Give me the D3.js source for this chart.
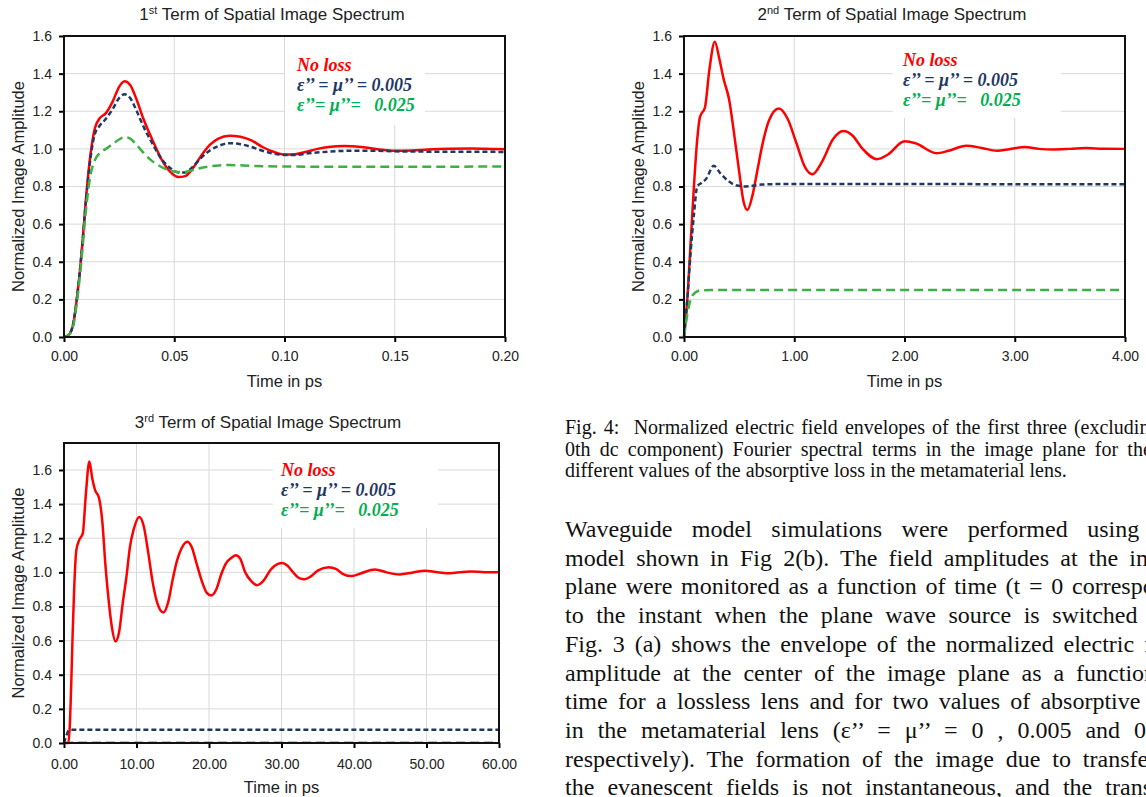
<!DOCTYPE html>
<html>
<head>
<meta charset="utf-8">
<script src="https://cdn.jsdelivr.net/npm/d3@7"></script>
<style>
    body { margin: 0; background: #fff; overflow: hidden; }
    svg { display: block; }
</style>
</head>
<body>
<script>
//------------------ data (time in ps, normalized amplitude) -----------------------
// 1st term
const term1_noLoss = [[0,0],[0.002,0.01],[0.004,0.06],[0.006,0.22],[0.008,0.45],[0.010,0.74],[0.012,0.97],[0.014,1.11],[0.016,1.16],[0.019,1.19],[0.022,1.25],[0.025,1.33],[0.0275,1.36],[0.030,1.34],[0.033,1.26],[0.036,1.16],[0.040,1.05],[0.044,0.95],[0.048,0.88],[0.052,0.85],[0.055,0.855],[0.058,0.89],[0.062,0.96],[0.066,1.02],[0.070,1.055],[0.075,1.07],[0.080,1.065],[0.085,1.045],[0.090,1.01],[0.095,0.985],[0.100,0.97],[0.105,0.972],[0.110,0.985],[0.115,1.0],[0.120,1.01],[0.127,1.015],[0.135,1.01],[0.143,0.997],[0.150,0.99],[0.158,0.992],[0.165,0.997],[0.175,1.001],[0.185,1.002],[0.195,0.999],[0.2,0.998]];
const term1_loss005 = [[0,0],[0.002,0.01],[0.004,0.06],[0.006,0.22],[0.008,0.45],[0.010,0.73],[0.012,0.95],[0.014,1.08],[0.016,1.12],[0.019,1.16],[0.022,1.21],[0.025,1.27],[0.0275,1.29],[0.030,1.27],[0.033,1.2],[0.036,1.12],[0.040,1.03],[0.044,0.95],[0.048,0.9],[0.052,0.875],[0.055,0.875],[0.058,0.9],[0.062,0.95],[0.066,0.99],[0.070,1.015],[0.075,1.03],[0.080,1.025],[0.085,1.01],[0.090,0.99],[0.095,0.975],[0.100,0.968],[0.105,0.968],[0.110,0.975],[0.120,0.985],[0.130,0.99],[0.140,0.99],[0.150,0.987],[0.170,0.985],[0.2,0.984]];
const term1_loss025 = [[0,0],[0.002,0.01],[0.004,0.05],[0.006,0.2],[0.008,0.42],[0.010,0.68],[0.012,0.86],[0.014,0.94],[0.016,0.975],[0.019,1.0],[0.022,1.025],[0.025,1.05],[0.0275,1.063],[0.030,1.055],[0.033,1.02],[0.036,0.98],[0.040,0.935],[0.044,0.905],[0.048,0.885],[0.052,0.877],[0.056,0.88],[0.060,0.893],[0.065,0.905],[0.070,0.912],[0.075,0.914],[0.085,0.91],[0.10,0.906],[0.13,0.905],[0.2,0.906]];
// 2nd term
const term2_noLoss = [[0,0],[0.03,0.2],[0.06,0.5],[0.09,0.8],[0.12,1.05],[0.145,1.17],[0.19,1.22],[0.23,1.42],[0.28,1.57],[0.32,1.48],[0.36,1.37],[0.41,1.26],[0.45,1.1],[0.5,0.88],[0.54,0.72],[0.575,0.675],[0.62,0.75],[0.67,0.9],[0.71,1.02],[0.77,1.15],[0.86,1.215],[0.94,1.16],[1.02,1.03],[1.1,0.9],[1.165,0.865],[1.25,0.93],[1.35,1.05],[1.445,1.095],[1.53,1.07],[1.62,1.0],[1.75,0.945],[1.85,0.97],[2.0,1.04],[2.1,1.03],[2.29,0.977],[2.4,0.99],[2.56,1.017],[2.7,1.005],[2.84,0.99],[2.95,0.998],[3.09,1.01],[3.22,1.0],[3.35,0.997],[3.5,1.0],[3.65,1.004],[3.8,1.001],[4.0,1.0]];
const term2_loss005 = [[0,0],[0.03,0.2],[0.06,0.45],[0.09,0.65],[0.12,0.8],[0.16,0.82],[0.2,0.84],[0.27,0.91],[0.33,0.87],[0.4,0.83],[0.48,0.805],[0.56,0.8],[0.7,0.81],[0.9,0.813],[4,0.812]];
const term2_loss025 = [[0,0],[0.03,0.12],[0.06,0.2],[0.1,0.235],[0.15,0.248],[0.25,0.25],[4,0.25]];
// 3rd term
const term3_noLoss = [[0,0],[0.6,0],[0.8,0.1],[1.0,0.35],[1.2,0.65],[1.4,0.9],[1.7,1.13],[2.1,1.19],[2.6,1.23],[3.0,1.45],[3.5,1.65],[3.9,1.55],[4.3,1.48],[4.8,1.44],[5.3,1.29],[5.7,1.05],[6.1,0.86],[6.6,0.68],[7.1,0.595],[7.6,0.65],[8.1,0.82],[8.6,0.97],[9.1,1.15],[9.6,1.25],[10.4,1.325],[11.0,1.27],[11.6,1.12],[12.2,0.95],[12.8,0.83],[13.7,0.765],[14.4,0.83],[15.0,0.96],[15.6,1.07],[16.2,1.14],[17.0,1.18],[17.6,1.15],[18.3,1.05],[19.0,0.95],[19.7,0.88],[20.3,0.865],[21.0,0.9],[21.7,0.99],[22.3,1.05],[23.1,1.085],[23.7,1.1],[24.3,1.08],[25.0,1.0],[25.8,0.95],[26.6,0.925],[27.5,0.95],[28.5,1.015],[29.5,1.05],[30.1,1.055],[30.8,1.04],[31.7,0.995],[32.5,0.965],[33.2,0.96],[34.0,0.975],[35.0,1.01],[36.5,1.03],[37.5,1.02],[38.5,0.99],[39.7,0.978],[41,0.995],[42.9,1.017],[44.5,1.0],[46.3,0.988],[48,0.998],[49.8,1.01],[51.5,1.0],[52.8,0.995],[54.5,1.0],[56,1.005],[58,1.001],[60,1.0]];
const term3_loss005 = [[0,0],[0.3,0.04],[0.6,0.07],[1,0.077],[60,0.077]];
const term3_loss025 = [[0,0.002],[60,0.002]];

// axis ticks
const ticks1_x = [0, 0.05, 0.10, 0.15, 0.20];
const ticks2_x = [0, 1, 2, 3, 4];
const ticks3_x = [0, 10, 20, 30, 40, 50, 60];
const ticks_y = [0, 0.2, 0.4, 0.6, 0.8, 1.0, 1.2, 1.4, 1.6];

const legend_labels = ["No loss", "\u03b5\u2019\u2019 = \u03bc\u2019\u2019 = 0.005", "\u03b5\u2019\u2019= \u03bc\u2019\u2019=   0.025"];

// text beside the charts
const caption_lines = [
    "Fig. 4:  Normalized electric field envelopes of the first three (excluding the",
    "0th dc component) Fourier spectral terms in the image plane for the two",
    "different values of the absorptive loss in the metamaterial lens."
];
const body_lines = [
    "Waveguide model simulations were performed using the",
    "model shown in Fig 2(b). The field amplitudes at the image",
    "plane were monitored as a function of time (t = 0 corresponds",
    "to the instant when the plane wave source is switched on).",
    "Fig. 3 (a) shows the envelope of the normalized electric field",
    "amplitude at the center of the image plane as a function of",
    "time for a lossless lens and for two values of absorptive loss",
    "in the metamaterial lens (\u03b5\u2019\u2019 = \u03bc\u2019\u2019 = 0 , 0.005 and 0.025",
    "respectively). The formation of the image due to transfer of",
    "the evanescent fields is not instantaneous, and the transient"
];

//------------------ layout -----------------------
const complete_width = 1146, complete_height = 797;
const sans = "'Liberation Sans', Arial, sans-serif",
    serif = "'Liberation Serif', 'Times New Roman', serif";
const colors = { red: "#ff0000", navy: "#1f3864", green: "#3cb043", legendGreen: "#00b050", grid: "#d9d9d9" };

const panels = [
    { num: "1", sup: "st", left: 64, right: 505, top: 36, bottom: 337, xmax: 0.2, yMax: 1.6, xTicks: ticks1_x,
      series: [term1_noLoss, term1_loss005, term1_loss025], titleX: 272, titleY: 20, xLabY: 361, axisTitleY: 387,
      box: { x0: 285, x1: 425, y0: 36, y1: 125 }, legX: 297, legY: 71 },
    { num: "2", sup: "nd", left: 684, right: 1125, top: 36, bottom: 337, xmax: 4, yMax: 1.6, xTicks: ticks2_x,
      series: [term2_noLoss, term2_loss005, term2_loss025], titleX: 892, titleY: 20, xLabY: 361, axisTitleY: 387,
      box: { x0: 893, x1: 1061, y0: 36, y1: 118 }, legX: 903, legY: 66 },
    { num: "3", sup: "rd", left: 64, right: 499, top: 443, bottom: 743, xmax: 60, yMax: 1.758, xTicks: ticks3_x,
      series: [term3_noLoss, term3_loss005, term3_loss025], titleX: 268, titleY: 428, xLabY: 769, axisTitleY: 793,
      box: { x0: 273, x1: 438, y0: 443, y1: 528 }, legX: 281, legY: 476 }
];

const svg = d3.select("body")
    .append("svg")
    .attr("width", complete_width)
    .attr("height", complete_height);

const styles = [
    { color: colors.red, dash: null },
    { color: colors.navy, dash: "5,3" },
    { color: colors.green, dash: "9,5" }
];
const legendColors = [colors.red, colors.navy, colors.legendGreen];

panels.forEach(p => {
    const g = svg.append("g");
    const x = d3.scaleLinear().domain([0, p.xmax]).range([p.left, p.right]);
    const y = d3.scaleLinear().domain([0, p.yMax]).range([p.bottom, p.top]);

    // gridlines
    g.append("g").selectAll("line")
        .data(ticks_y.filter(d => d > 0))
        .join("line")
        .attr("x1", p.left).attr("x2", p.right)
        .attr("y1", d => y(d)).attr("y2", d => y(d))
        .attr("stroke", colors.grid).attr("stroke-width", 1);
    g.append("g").selectAll("line")
        .data(p.xTicks.filter(d => d > 0 && d < p.xmax))
        .join("line")
        .attr("x1", d => x(d)).attr("x2", d => x(d))
        .attr("y1", p.top).attr("y2", p.bottom)
        .attr("stroke", colors.grid).attr("stroke-width", 1);

    // white legend box hides the grid
    g.append("rect")
        .attr("x", p.box.x0).attr("y", p.box.y0)
        .attr("width", p.box.x1 - p.box.x0).attr("height", p.box.y1 - p.box.y0)
        .attr("fill", "#fff");

    // axes
    const xAxis = d3.axisBottom(x).tickValues(p.xTicks).tickFormat(d3.format(".2f")).tickSize(5).tickPadding(p.xLabY - p.bottom - 15);
    const yAxis = d3.axisLeft(y).tickValues(ticks_y).tickFormat(d3.format(".1f")).tickSize(5).tickPadding(7);
    const gx = g.append("g").attr("transform", `translate(0,${p.bottom})`).call(xAxis);
    const gy = g.append("g").attr("transform", `translate(${p.left},0)`).call(yAxis);
    [gx, gy].forEach(a => {
        a.select(".domain").remove();
        a.selectAll(".tick line").attr("stroke", "#000").attr("stroke-width", 2);
        a.selectAll("text").attr("fill", "#222").style("font-family", sans).style("font-size", "14px");
    });

    // series
    const line = d3.line()
        .x(d => x(d[0]))
        .y(d => y(d[1]))
        .curve(d3.curveMonotoneX);
    g.append("g").selectAll("path")
        .data(p.series)
        .join("path")
        .attr("d", line)
        .attr("fill", "none")
        .attr("stroke", (d, i) => styles[i].color)
        .attr("stroke-width", 2.5)
        .attr("stroke-dasharray", (d, i) => styles[i].dash);

    // frame
    g.append("rect")
        .attr("x", p.left).attr("y", p.top)
        .attr("width", p.right - p.left).attr("height", p.bottom - p.top)
        .attr("fill", "none").attr("stroke", "#111").attr("stroke-width", 2);

    // legend text
    g.append("g").selectAll("text")
        .data(legend_labels)
        .join("text")
        .attr("x", p.legX)
        .attr("y", (d, i) => p.legY + i * 20)
        .attr("fill", (d, i) => legendColors[i])
        .style("font-family", serif)
        .style("font-size", "18px")
        .style("font-weight", "bold")
        .style("font-style", "italic")
        .style("white-space", "pre")
        .text(d => d);

    // title
    const title = g.append("text")
        .attr("x", p.titleX)
        .attr("y", p.titleY)
        .attr("text-anchor", "middle")
        .attr("fill", "#222")
        .style("font-family", sans)
        .style("font-size", "17px");
    title.append("tspan").text(p.num);
    title.append("tspan").attr("dy", -6).style("font-size", "11px").text(p.sup);
    title.append("tspan").attr("dy", 6).text(" Term of Spatial Image Spectrum");

    // axis titles
    g.append("text")
        .attr("x", (p.left + p.right) / 2)
        .attr("y", p.axisTitleY)
        .attr("text-anchor", "middle")
        .attr("fill", "#222")
        .style("font-family", sans)
        .style("font-size", "16.5px")
        .text("Time in ps");
    g.append("text")
        .attr("transform", `translate(${p.left - 40},${(p.top + p.bottom) / 2}) rotate(-90)`)
        .attr("text-anchor", "middle")
        .attr("fill", "#222")
        .style("font-family", sans)
        .style("font-size", "16.5px")
        .text("Normalized Image Amplitude");
});

//------------------ justified text column -----------------------
function justified(lines, x0, x1, y0, step, size, lastLeft) {
    const g = svg.append("g");
    lines.forEach((t, i) => {
        const txt = g.append("text")
            .attr("x", x0)
            .attr("y", y0 + i * step)
            .attr("fill", "#111")
            .style("font-family", serif)
            .style("font-size", size + "px")
            .style("white-space", "pre")
            .text(t);
        if (lastLeft && i === lines.length - 1) return;
        const len = txt.node().getComputedTextLength();
        const gaps = t.split(" ").length - 1;
        if (gaps > 0) txt.attr("word-spacing", (x1 - x0 - len) / gaps);
    });
}
justified(caption_lines, 565, 1191, 434, 21.7, 20, true);
justified(body_lines, 565, 1188, 537, 28.7, 24, false);
</script>
</body>
</html>
